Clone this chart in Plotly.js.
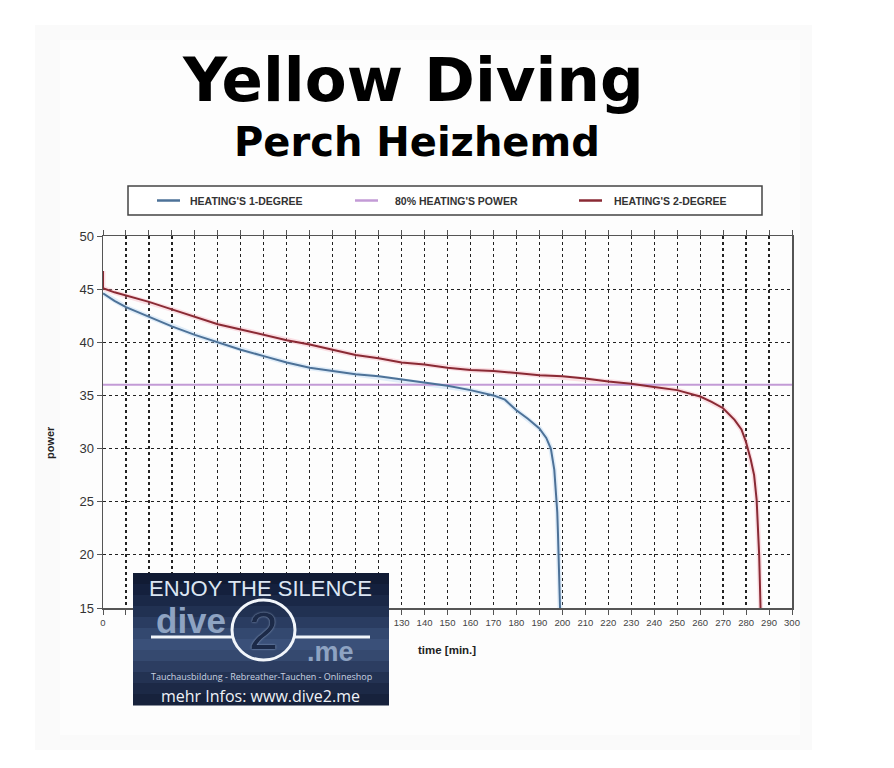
<!DOCTYPE html>
<html><head><meta charset="utf-8">
<script src="https://cdn.plot.ly/plotly-3.0.1.min.js"></script>
<style>html,body{margin:0;padding:0;background:#fff;}#chart{width:894px;height:768px;}</style>
</head><body><div id="chart"></div>
<script>
// ---- data ----
const blueTime  = [0,5,10,20,30,40,50,60,70,80,90,100,110,120,130,140,150,160,170,175,180,185,190,193,195,196.5,197.3,197.8,198.1,198.4,198.7,199];
const bluePower = [44.6,43.9,43.3,42.4,41.5,40.7,40.0,39.3,38.7,38.1,37.6,37.3,37.0,36.8,36.5,36.2,35.9,35.5,35.0,34.6,33.6,32.8,31.9,31.0,30.0,28.0,26.0,24.0,22.0,20.0,17.5,15];
const redTime   = [0,0,5,10,20,30,40,50,60,70,80,90,100,110,120,130,140,150,160,170,180,190,200,210,220,230,240,250,260,265,270,275,278,280,282,283.5,284.6,285.2,285.7,286,286.3];
const redPower  = [46.7,45.1,44.7,44.4,43.8,43.1,42.4,41.7,41.2,40.7,40.2,39.8,39.3,38.8,38.5,38.1,37.9,37.6,37.4,37.3,37.1,36.9,36.8,36.6,36.3,36.1,35.8,35.5,34.9,34.4,33.8,32.7,31.8,30.6,29.0,27.5,25.2,23,20,17.5,15];
const limitTime  = [0,300];
const limitPower = [36,36];
const seriesNames = ["HEATING'S 1-DEGREE","80% HEATING'S POWER","HEATING'S 2-DEGREE"];
const xTicks = [0,10,20,30,40,50,60,70,80,90,100,110,120,130,140,150,160,170,180,190,200,210,220,230,240,250,260,270,280,290,300];
// labels 10..120 are hidden behind the logo in the reference
const xTickText = ['0','','','','','','','','','','','','','130','140','150','160','170','180','190','200','210','220','230','240','250','260','270','280','290','300'];
const yTicks = [15,20,25,30,35,40,45,50];

// ---- geometry helpers (pixel -> paper) ----
const L=103,R=792,T=236,B=608;
const px = x => (x-L)/(R-L);
const py = y => (B-y)/(B-T);

const BLUE='#4d7298', RED='#8a2a34', PURPLE='#c39bd6';

const traces = [
  {x:blueTime,y:bluePower,mode:'lines',line:{color:'rgba(170,205,240,0.35)',width:5},hoverinfo:'skip',showlegend:false},
  {x:redTime,y:redPower,mode:'lines',line:{color:'rgba(245,165,180,0.35)',width:5},hoverinfo:'skip',showlegend:false},
  {x:limitTime,y:limitPower,mode:'lines',name:seriesNames[1],line:{color:PURPLE,width:2},showlegend:false},
  {x:blueTime,y:bluePower,mode:'lines',name:seriesNames[0],line:{color:BLUE,width:2},showlegend:false},
  {x:redTime,y:redPower,mode:'lines',name:seriesNames[2],line:{color:RED,width:2},showlegend:false}
];

const shapes = [];
const annotations = [];

// very faint backdrop panel
shapes.push({type:'rect',xref:'paper',yref:'paper',layer:'below',x0:px(35),x1:px(812),y0:py(25),y1:py(750),fillcolor:'#fafafa',line:{width:0}});
shapes.push({type:'rect',xref:'paper',yref:'paper',layer:'below',x0:px(60),x1:px(800),y0:py(40),y1:py(735),fillcolor:'#fdfdfd',line:{width:0}});

// legend box
shapes.push({type:'rect',xref:'paper',yref:'paper',x0:px(128),x1:px(762),y0:py(186),y1:py(215),fillcolor:'#ffffff',line:{color:'#444',width:1.5}});
const legCols=[BLUE,PURPLE,RED], legLine=[[157,180],[355,378],[579,602]], legText=[188,393,612];
for(let i=0;i<3;i++){
  shapes.push({type:'line',xref:'paper',yref:'paper',x0:px(legLine[i][0]),x1:px(legLine[i][1]),y0:py(200.5),y1:py(200.5),line:{color:legCols[i],width:2.5}});
  annotations.push({xref:'paper',yref:'paper',x:px(legText[i]),y:py(200.5),xanchor:'left',yanchor:'middle',showarrow:false,text:'<b>'+seriesNames[i]+'</b>',font:{family:'Liberation Sans, Arial, sans-serif',size:10.5,color:'#333'}});
}

// titles
annotations.push({xref:'paper',yref:'paper',x:px(412.5),y:py(80),xanchor:'center',yanchor:'middle',showarrow:false,text:'<b>Yellow Diving</b>',font:{family:'DejaVu Sans, Verdana, sans-serif',size:61,color:'#000'}});
annotations.push({xref:'paper',yref:'paper',x:px(417),y:py(142),xanchor:'center',yanchor:'middle',showarrow:false,text:'<b>Perch Heizhemd</b>',font:{family:'DejaVu Sans, Verdana, sans-serif',size:40,color:'#000'}});
// axis titles
annotations.push({xref:'paper',yref:'paper',x:px(50),y:py(443),xanchor:'center',yanchor:'middle',textangle:-90,showarrow:false,text:'<b>power</b>',font:{family:'Liberation Sans, Arial, sans-serif',size:11,color:'#222'}});
annotations.push({xref:'paper',yref:'paper',x:px(416),y:py(650),xanchor:'left',yanchor:'middle',showarrow:false,text:'<b>time [min.]</b>',font:{family:'Liberation Sans, Arial, sans-serif',size:11.5,color:'#222'}});

// logo block (strips for gradient)
const logoStrips=['#111b34','#14203d','#1a2847','#213152','#2a3c61','#33486f','#3a5079','#35496f','#2c3d61','#233252','#1c2946','#17223c'];
const lx0=133,lx1=389,ly0=573,ly1=705,sh=(ly1-ly0)/logoStrips.length;
logoStrips.forEach((c,i)=>{
  shapes.push({type:'rect',xref:'paper',yref:'paper',layer:'above',x0:px(lx0),x1:px(lx1),y0:py(ly0+i*sh),y1:py(ly0+(i+1)*sh+0.5),fillcolor:c,line:{width:0}});
});
shapes.push({type:'line',xref:'paper',yref:'paper',x0:px(151),x1:px(232),y0:py(637),y1:py(637),line:{color:'#f2f6fb',width:3}});
shapes.push({type:'line',xref:'paper',yref:'paper',x0:px(295),x1:px(370),y0:py(637),y1:py(637),line:{color:'#f2f6fb',width:3}});
shapes.push({type:'circle',xref:'paper',yref:'paper',x0:px(232),x1:px(295),y0:py(600),y1:py(660),line:{color:'#f2f6fb',width:3}});

const logoFont='Open Sans, Liberation Sans, sans-serif';
annotations.push({xref:'paper',yref:'paper',x:px(260),y:py(588),xanchor:'center',yanchor:'middle',showarrow:false,text:'ENJOY THE SILENCE',font:{family:'Liberation Sans, Arial, sans-serif',size:22,color:'#dce6f3'}});
annotations.push({xref:'paper',yref:'paper',x:px(191),y:py(620),xanchor:'center',yanchor:'middle',showarrow:false,text:'<b>dive</b>',font:{family:'Liberation Sans, Arial, sans-serif',size:35,color:'#8ea3c2'}});
annotations.push({xref:'paper',yref:'paper',x:px(263),y:py(631),xanchor:'center',yanchor:'middle',showarrow:false,text:'2',font:{family:'Liberation Sans, Arial, sans-serif',size:52,color:'#1c2a48',shadow:'0px 0px 2px #9fb3d0'}});
annotations.push({xref:'paper',yref:'paper',x:px(330),y:py(652),xanchor:'center',yanchor:'middle',showarrow:false,text:'<b>.me</b>',font:{family:'Liberation Sans, Arial, sans-serif',size:27,color:'#8ea3c2'}});
annotations.push({xref:'paper',yref:'paper',x:px(261),y:py(676),xanchor:'center',yanchor:'middle',showarrow:false,text:'Tauchausbildung - Rebreather-Tauchen - Onlineshop',font:{family:logoFont,size:9,color:'#c9d3e2'}});
annotations.push({xref:'paper',yref:'paper',x:px(260),y:py(696),xanchor:'center',yanchor:'middle',showarrow:false,text:'mehr Infos: www.dive2.me',font:{family:logoFont,size:16,color:'#eef2f8'}});

const layout = {
  width:894,height:768,autosize:false,
  margin:{l:L,r:894-R,t:T,b:768-B,pad:0},
  paper_bgcolor:'#ffffff',plot_bgcolor:'#ffffff',
  showlegend:false,
  xaxis:{range:[0,300],tickvals:xTicks,ticktext:xTickText,ticks:'outside',ticklen:5,tickcolor:'#555',
    showline:true,linecolor:'#555',linewidth:1.5,mirror:'ticks',showgrid:true,gridcolor:'#222',gridwidth:1.2,griddash:'dot',zeroline:false,
    tickfont:{family:'Liberation Sans, Arial, sans-serif',size:9.5,color:'#444'}},
  yaxis:{range:[15,50],tickvals:yTicks,ticks:'outside',ticklen:5,tickcolor:'#555',
    showline:true,linecolor:'#555',linewidth:1.5,mirror:true,showgrid:true,gridcolor:'#222',gridwidth:1.2,griddash:'dot',zeroline:false,
    tickfont:{family:'Liberation Sans, Arial, sans-serif',size:13,color:'#333'}},
  shapes:shapes,annotations:annotations
};
Plotly.newPlot('chart',traces,layout,{displayModeBar:false,staticPlot:true});
</script></body></html>
